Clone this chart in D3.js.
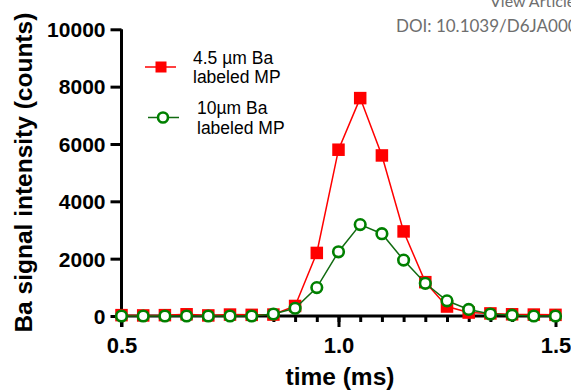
<!DOCTYPE html>
<html>
<head>
<meta charset="utf-8">
<script src="https://cdn.jsdelivr.net/npm/d3@7"></script>
<style>
  html, body { margin: 0; padding: 0; background: #fff; }
  svg { display: block; }
</style>
</head>
<body>
<svg id="chart" width="571" height="392"></svg>
<script>
// Time points (ms)
const times = [0.50, 0.55, 0.60, 0.65, 0.70, 0.75, 0.80, 0.85, 0.90, 0.95, 1.00,
               1.05, 1.10, 1.15, 1.20, 1.25, 1.30, 1.35, 1.40, 1.45, 1.50];
// Ba signal (counts) for 4.5 µm Ba labeled MP
const small = [30, 20, 30, 60, 20, 50, 40, 50, 350, 2200, 5800,
               7600, 5600, 2950, 1180, 330, 120, 90, 60, 50, 40];
// Ba signal (counts) for 10 µm Ba labeled MP
const large = [0, 0, 0, 0, 0, 0, 0, 70, 270, 990, 2240,
               3190, 2870, 1950, 1140, 530, 230, 70, 30, 0, 0];
const xMajor = [0.5, 1.0, 1.5];
const yTicks = [0, 2000, 4000, 6000, 8000, 10000];
const seriesNames = ["4.5 \u00b5m Ba|labeled MP", "10\u00b5m Ba|labeled MP"];

const svg = d3.select("#chart");
const FONT = "'Liberation Sans', Arial, sans-serif";

const x = d3.scaleLinear().domain([0.5, 1.5]).range([121.5, 555.5]);
const y = d3.scaleLinear().domain([0, 10000]).range([316, 29.3]);

// Header text in the top-right corner (runs past the right edge)
svg.append("text").attr("x", 490).attr("y", 7)
  .attr("font-family", "Lato, 'Open Sans', sans-serif").attr("font-size", 16)
  .attr("fill", "#6e6e6e").text("View Article Online");
svg.append("text").attr("x", 396).attr("y", 32)
  .attr("font-family", "Lato, 'Open Sans', sans-serif").attr("font-size", 17)
  .attr("fill", "#6e6e6e").text("DOI: 10.1039/D6JA00000");

// Y axis
const yAxis = d3.axisLeft(y).tickValues(yTicks).tickSize(11).tickPadding(5)
  .tickFormat(d3.format("d"));
const gy = svg.append("g").attr("transform", `translate(${x(0.5)},0)`).call(yAxis);
gy.select(".domain").attr("d", `M0,${y(10000)}V${y(0) + 11}`);
gy.selectAll("path, line").attr("stroke", "#000").attr("stroke-width", 3);
gy.selectAll("text").attr("font-family", FONT).attr("font-weight", "bold")
  .attr("font-size", 21).attr("fill", "#000").attr("dy", "0.35em");

// X axis: minor ticks every sample, major ticks with labels
const gxMinor = svg.append("g").attr("transform", `translate(0,${y(0)})`)
  .call(d3.axisBottom(x).tickValues(times).tickSize(6).tickFormat(""));
gxMinor.selectAll("text").remove();
gxMinor.selectAll("line").attr("stroke", "#000").attr("stroke-width", 3);
gxMinor.select(".domain").attr("d", `M${x(0.5)},0H${x(1.5)}`)
  .attr("stroke", "#000").attr("stroke-width", 3);

const gx = svg.append("g").attr("transform", `translate(0,${y(0)})`)
  .call(d3.axisBottom(x).tickValues(xMajor).tickSize(11).tickPadding(10)
    .tickFormat(d3.format(".1f")));
gx.select(".domain").remove();
gx.selectAll("line").attr("stroke", "#000").attr("stroke-width", 3);
gx.selectAll("text").attr("font-family", FONT).attr("font-weight", "bold")
  .attr("font-size", 22).attr("fill", "#000");

// Axis titles
svg.append("text")
  .attr("transform", `translate(32,${(y(0) + y(10000)) / 2}) rotate(-90)`)
  .attr("text-anchor", "middle").attr("font-family", FONT)
  .attr("font-weight", "bold").attr("font-size", 24.5).attr("fill", "#000")
  .text("Ba signal intensity (counts)");
svg.append("text").attr("x", 340).attr("y", 385)
  .attr("text-anchor", "middle").attr("font-family", FONT)
  .attr("font-weight", "bold").attr("font-size", 24.5).attr("fill", "#000")
  .text("time (ms)");

const line = d3.line().x(d => x(d[0])).y(d => y(d[1]));

// 4.5 µm series: red line with filled squares
const redPts = times.map((t, i) => [t, small[i]]);
svg.append("path").datum(redPts).attr("d", line)
  .attr("fill", "none").attr("stroke", "#ff0000").attr("stroke-width", 1.5);
const SQ = 12.5;
svg.append("g").selectAll("rect").data(redPts).join("rect")
  .attr("x", d => x(d[0]) - SQ / 2).attr("y", d => y(d[1]) - SQ / 2)
  .attr("width", SQ).attr("height", SQ).attr("fill", "#ff0000");

// 10 µm series: green line with open circles
const greenPts = times.map((t, i) => [t, large[i]]);
svg.append("path").datum(greenPts).attr("d", line)
  .attr("fill", "none").attr("stroke", "#116b11").attr("stroke-width", 1.5);
svg.append("g").selectAll("circle").data(greenPts).join("circle")
  .attr("cx", d => x(d[0])).attr("cy", d => y(d[1])).attr("r", 5.3)
  .attr("fill", "#fff").attr("stroke", "#008000").attr("stroke-width", 2.6);

// Legend
const legend = svg.append("g");
const legY = [67, 117.5];
const legTextY = [63.5, 114];
// red entry
legend.append("line").attr("x1", 145).attr("x2", 176).attr("y1", legY[0]).attr("y2", legY[0])
  .attr("stroke", "#ff0000").attr("stroke-width", 1.5);
legend.append("rect").attr("x", 161 - 5.5).attr("y", legY[0] - 5.5)
  .attr("width", 11).attr("height", 11).attr("fill", "#ff0000");
// green entry
legend.append("line").attr("x1", 148).attr("x2", 179).attr("y1", legY[1]).attr("y2", legY[1])
  .attr("stroke", "#116b11").attr("stroke-width", 1.5);
legend.append("circle").attr("cx", 163).attr("cy", legY[1]).attr("r", 5)
  .attr("fill", "#fff").attr("stroke", "#008000").attr("stroke-width", 2.6);

// Two-line legend labels, one text element per line
const legX = [193, 197];
seriesNames.forEach((name, i) => {
  name.split("|").forEach((part, j) => {
    legend.append("text").attr("x", legX[i]).attr("y", legTextY[i] + j * 19.5)
      .attr("font-family", FONT).attr("font-size", 17.5).attr("fill", "#000")
      .text(part);
  });
});
</script>
</body>
</html>
